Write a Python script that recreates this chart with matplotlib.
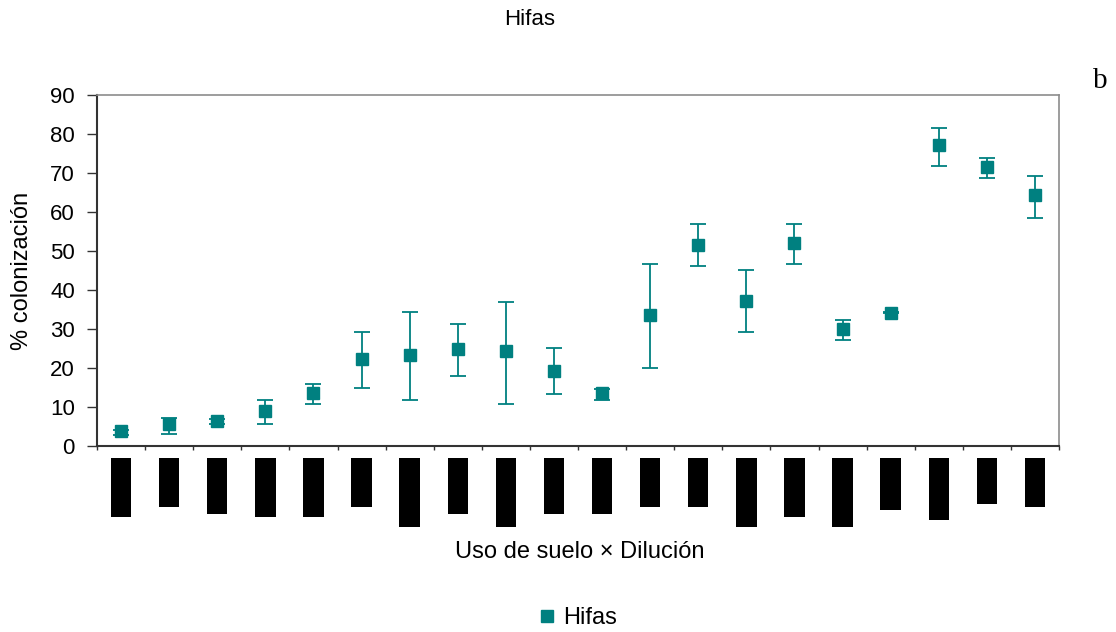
import numpy as np
import matplotlib.pyplot as plt
from matplotlib.lines import Line2D

# mean % colonization (hyphae) per land use x dilution, with error bar ends
hifas = [3.8, 5.6, 6.5, 9.1, 13.7, 22.3, 23.4, 24.9, 24.4, 19.2,
         13.5, 33.7, 51.6, 37.3, 52.1, 30.1, 34.2, 77.3, 71.6, 64.4]
err_hi = [4.2, 7.3, 6.8, 11.9, 16.0, 29.3, 34.4, 31.4, 37.0, 25.2,
          14.5, 46.7, 57.0, 45.2, 57.0, 32.4, 34.3, 81.6, 73.9, 69.3]
err_lo = [2.7, 3.2, 5.6, 5.7, 10.8, 15.0, 11.9, 18.0, 10.8, 13.4,
          11.9, 20.1, 46.2, 29.3, 46.7, 27.3, 34.1, 71.9, 68.8, 58.5]
# category labels: unreadable in the source, they show up as solid black blocks
label_len = [14, 11, 13, 14, 14, 11, 17, 13, 17, 13,
             13, 11, 11, 17, 14, 17, 12, 15, 10, 11]
x_labels = ['\u2588' * n for n in label_len]
yticks = list(range(0, 91, 10))

teal = '#008080'
W, H = 1116, 632
plt.rcParams['font.family'] = ['Liberation Sans', 'DejaVu Sans']

fig = plt.figure(figsize=(W / 100, H / 100), dpi=100)
ax = fig.add_axes([97 / W, 1 - 446 / H, 962 / W, 351 / H])

x = np.arange(len(hifas))
yerr = [np.array(hifas) - np.array(err_lo), np.array(err_hi) - np.array(hifas)]
ax.errorbar(x, hifas, yerr=yerr, fmt='s', color=teal, ms=8.5, mec=teal,
            ecolor=teal, elinewidth=1.3, capsize=5.5, capthick=1.3)

ax.set_xlim(-0.5, len(hifas) - 0.5)
ax.set_ylim(0, 90)
ax.set_yticks(yticks)
ax.tick_params(axis='y', direction='out', length=7, width=1, color='#333333',
               labelsize=16, pad=9)

# boundary ticks (major) and labelled category positions (minor)
ax.set_xticks(np.arange(-0.5, len(hifas), 1))
ax.set_xticklabels([])
ax.tick_params(axis='x', which='major', direction='out', length=3, width=1,
               color='#333333')
ax.set_xticks(x, minor=True)
ax.set_xticklabels(x_labels, minor=True, rotation=90, fontsize=4,
                   family='DejaVu Sans Mono', color='black')
ax.tick_params(axis='x', which='minor', length=0, pad=13.5)
for t in ax.get_xticklabels(minor=True):
    t.set_bbox(dict(boxstyle='square,pad=1.2', fc='black', ec='none'))

for s in ['left', 'bottom']:
    ax.spines[s].set_color('#333333')
    ax.spines[s].set_linewidth(1.5)
for s in ['top', 'right']:
    ax.spines[s].set_color('#8c8c8c')
    ax.spines[s].set_linewidth(1.2)

ax.set_ylabel('% colonización', fontsize=17, labelpad=12)
fig.text(580 / W, 1 - 558 / H, 'Uso de suelo \u00d7 Dilución', fontsize=17,
         ha='center', va='baseline')
fig.text(530 / W, 1 - 25 / H, 'Hifas', fontsize=16, ha='center', va='baseline')
fig.text(1100 / W, 1 - 88 / H, 'b', fontsize=21, ha='center',
         va='baseline', family='Liberation Serif')

handle = Line2D([], [], marker='s', ls='none', color=teal, ms=9)
fig.legend([handle], ['Hifas'], loc='center left',
           bbox_to_anchor=(535 / W, 1 - 618 / H), frameon=False, fontsize=17,
           borderpad=0, borderaxespad=0, handletextpad=0.2, handlelength=1.0)

fig.savefig('out.png', dpi=100)
